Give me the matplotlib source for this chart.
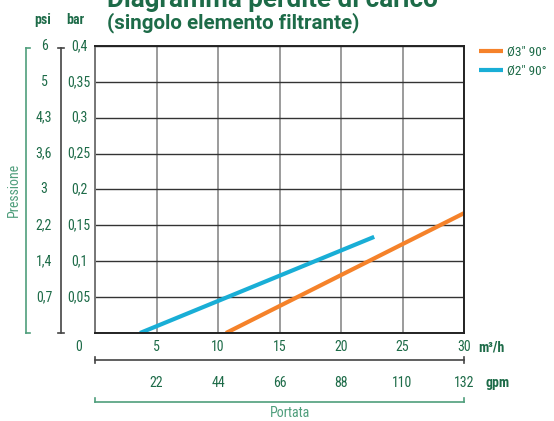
import matplotlib
matplotlib.use("Agg")
import matplotlib.pyplot as plt
from matplotlib import font_manager
from matplotlib.transforms import blended_transform_factory
from matplotlib.lines import Line2D

# ---------------- data ----------------
flow_ticks = [0, 5, 10, 15, 20, 25, 30]
gpm_labels = ["22", "44", "66", "88", "110", "132"]
bar_ticks = [0.05, 0.1, 0.15, 0.2, 0.25, 0.3, 0.35, 0.4]
bar_labels = ["0,05", "0,1", "0,15", "0,2", "0,25", "0,3", "0,35", "0,4"]
psi_labels = ["0,7", "1,4", "2,2", "3", "3,6", "4,3", "5", "6"]

series_names = ['Ø3" 90°', 'Ø2" 90°']
flow_3in = [10.65, 30.0]
loss_3in = [0.0, 0.167]
flow_2in = [3.66, 22.7]
loss_2in = [0.0, 0.134]

# ---------------- style ----------------
names = {f.name for f in font_manager.fontManager.ttflist}
def pick(*cands):
    for c in cands:
        if c in names:
            return c
    return "DejaVu Sans"
narrow = pick("Liberation Sans Narrow", "DejaVu Sans Condensed", "Roboto Condensed", "Roboto", "DejaVu Sans")
titlef = pick("Roboto", "Open Sans", "DejaVu Sans")

dark_green = "#1d6b48"
light_green = "#4f9e7c"
orange = "#f5822a"
blue = "#19aed6"
FS = 10

W, H = 554, 421
fig = plt.figure(figsize=(W / 100, H / 100), dpi=100)
L, R, T, B = 95, 464, 46, 333
ax = fig.add_axes([L / W, 1 - B / H, (R - L) / W, (B - T) / H])
ax.set_xlim(0, 30)
ax.set_ylim(0, 0.4)
ax.set_xticks(flow_ticks)
ax.set_yticks([0] + bar_ticks)
ax.tick_params(length=0, labelleft=False, labelbottom=False)
ax.grid(axis="x", color="#8a8a8a", lw=1.2)
ax.grid(axis="y", color="#333333", lw=1.0)
for s in ax.spines.values():
    s.set_color("#222222")
    s.set_linewidth(1.4)
ax.spines["left"].set_color("#777777")

ax.plot(flow_3in, loss_3in, color=orange, lw=3, solid_capstyle="butt", label=series_names[0])
ax.plot(flow_2in, loss_2in, color=blue, lw=3, solid_capstyle="butt", label=series_names[1])

def fy(p):
    return 1 - p / H
def fx(p):
    return p / W

# ---------------- y labels ----------------
ty = blended_transform_factory(fig.transFigure, ax.transData)
for v, lab, plab in zip(bar_ticks, bar_labels, psi_labels):
    fig.text(79 / W, v, lab, transform=ty, ha="center", va="center",
             color=dark_green, fontsize=FS, family=narrow)
    fig.text(44 / W, v, plab, transform=ty, ha="center", va="center",
             color=dark_green, fontsize=FS, family=narrow)

# bar bracket
fig.add_artist(Line2D([fx(61), fx(61)], [fy(48), fy(333)], color="#444444", lw=1.2))
fig.add_artist(Line2D([fx(58), fx(64)], [fy(48), fy(48)], color="#444444", lw=1.2))
fig.add_artist(Line2D([fx(58), fx(64)], [fy(333), fy(333)], color="#444444", lw=1.2))
# psi bracket
fig.add_artist(Line2D([fx(26), fx(26)], [fy(48), fy(333)], color=light_green, lw=1.2))
fig.add_artist(Line2D([fx(26), fx(30)], [fy(48), fy(48)], color=light_green, lw=1.2))
fig.add_artist(Line2D([fx(26), fx(30)], [fy(333), fy(333)], color=light_green, lw=1.2))
fig.text(fx(14), fy(190), "Pressione", rotation=90, ha="center", va="center",
         color=light_green, fontsize=FS, family=narrow)

fig.text(fx(43), fy(20), "psi", ha="center", va="center", color=dark_green,
         fontsize=FS, family=narrow, fontweight="bold")
fig.text(fx(75), fy(20), "bar", ha="center", va="center", color=dark_green,
         fontsize=FS, family=narrow, fontweight="bold")

# ---------------- x labels ----------------
tx = blended_transform_factory(ax.transData, fig.transFigure)
for v in flow_ticks:
    xx = v if v > 0 else -1.3
    fig.text(xx, fy(347), str(v), transform=tx, ha="center", va="center",
             color=dark_green, fontsize=FS, family=narrow)
fig.text(fx(491), fy(347), "m³/h", ha="center", va="center", color=dark_green,
         fontsize=FS, family=narrow, fontweight="bold")
for v, lab in zip(flow_ticks[1:], gpm_labels):
    fig.text(v, fy(383), lab, transform=tx, ha="center", va="center",
             color=dark_green, fontsize=FS, family=narrow)
fig.text(fx(498), fy(383), "gpm", ha="center", va="center", color=dark_green,
         fontsize=FS, family=narrow, fontweight="bold")

# m3/h bracket
fig.add_artist(Line2D([fx(95), fx(464)], [fy(360), fy(360)], color="#444444", lw=1.2))
fig.add_artist(Line2D([fx(95), fx(95)], [fy(357), fy(363)], color="#444444", lw=1.2))
fig.add_artist(Line2D([fx(464), fx(464)], [fy(357), fy(363)], color="#444444", lw=1.2))
# gpm bracket
fig.add_artist(Line2D([fx(95), fx(464)], [fy(402), fy(402)], color=light_green, lw=1.2))
fig.add_artist(Line2D([fx(95), fx(95)], [fy(398), fy(402)], color=light_green, lw=1.2))
fig.add_artist(Line2D([fx(464), fx(464)], [fy(398), fy(402)], color=light_green, lw=1.2))
fig.text(fx(290), fy(413), "Portata", ha="center", va="center", color=light_green,
         fontsize=FS, family=narrow)

# ---------------- titles ----------------
fig.text(fx(107), fy(7), "Diagramma perdite di carico", ha="left", va="baseline",
         color=dark_green, fontsize=18.7, family=titlef, fontweight="bold")
fig.text(fx(107), fy(23), "(singolo elemento filtrante)", ha="left", va="center",
         color=dark_green, fontsize=14.8, family=titlef, fontweight="bold")

# ---------------- legend ----------------
leg = fig.legend(handles=ax.get_lines(), loc="upper left",
                 bbox_to_anchor=(fx(479), fy(46)), frameon=False,
                 handlelength=1.8, handletextpad=0.3, labelspacing=0.45,
                 borderaxespad=0, borderpad=0,
                 prop={"family": narrow, "size": 9.5})
for t in leg.get_texts():
    t.set_color(dark_green)

fig.savefig("out.png", dpi=100)
